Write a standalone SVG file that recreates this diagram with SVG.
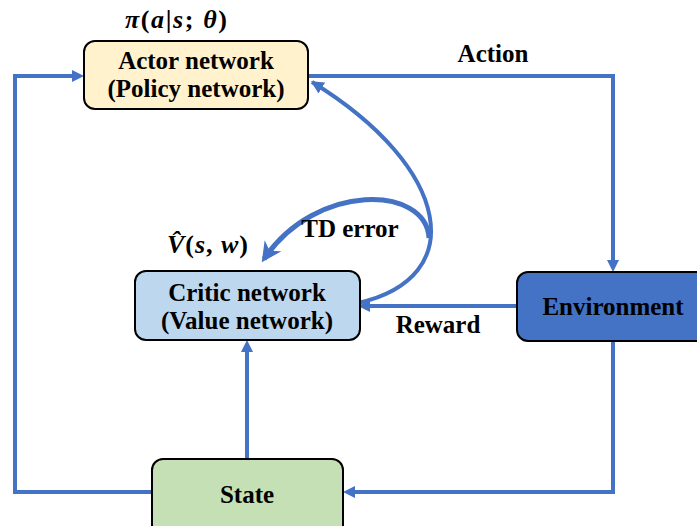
<svg xmlns="http://www.w3.org/2000/svg" width="697" height="526" viewBox="0 0 697 526">
<defs>
<style>
.box{stroke:#000;stroke-width:2}
.c{fill:none;stroke:#4472C4;stroke-width:4}
</style>
<marker id="ah" viewBox="0 0 10 10" refX="5" refY="5" markerWidth="3" markerHeight="3" orient="auto" markerUnits="strokeWidth">
<path d="M0,0 L10,5 L0,10 z" fill="#4472C4"/>
</marker>
<marker id="ahc" viewBox="0 0 10 10" refX="9" refY="5" markerWidth="3.2" markerHeight="3.2" orient="auto" markerUnits="strokeWidth">
<path d="M0,0 L10,5 L0,10 z" fill="#4472C4"/>
</marker>
<marker id="ahb" viewBox="0 0 10 10" refX="8" refY="5" markerWidth="4" markerHeight="4" orient="auto" markerUnits="strokeWidth">
<path d="M0,0 L10,5 L0,10 L3,5 z" fill="#4472C4"/>
</marker>
</defs>
<rect width="697" height="526" fill="#fff"/>
<g id="connectors">
<path class="c" d="M152 492 H15 V76 H78" marker-end="url(#ah)"/>
<path class="c" d="M308 76 H613 V266" marker-end="url(#ah)"/>
<path class="c" d="M613 341 V492 H349" marker-end="url(#ah)"/>
<path class="c" d="M517 306 H364" marker-end="url(#ah)"/>
<path class="c" d="M247 459 V346" marker-end="url(#ah)"/>
<path class="c" d="M358 303 C470 278 452 168 312 82" marker-end="url(#ahc)"/>
<path class="c" style="stroke-width:5" d="M429 238 C426 185 316 182 264 259" marker-end="url(#ahb)"/>
</g>
<g id="actor">
<rect class="box" x="84" y="41" width="224" height="68" rx="11" fill="#FFF2CC"/>
<text x="196" y="69" text-anchor="middle" font-family="Liberation Serif" font-weight="bold" font-size="25">Actor network</text>
<text x="196" y="97" text-anchor="middle" font-family="Liberation Serif" font-weight="bold" font-size="25">(Policy network)</text>
</g>
<g id="actor-label">
<text x="125" y="28" font-family="Liberation Serif" font-weight="bold" font-size="26" textLength="102" lengthAdjust="spacing"><tspan font-style="italic">&#960;</tspan>(<tspan font-style="italic">a</tspan>|<tspan font-style="italic">s</tspan>; <tspan font-style="italic">&#952;</tspan>)</text>
</g>
<g id="critic">
<rect class="box" x="135" y="271" width="225" height="69" rx="11" fill="#BDD7EE"/>
<text x="247" y="301" text-anchor="middle" font-family="Liberation Serif" font-weight="bold" font-size="25">Critic network</text>
<text x="247" y="329" text-anchor="middle" font-family="Liberation Serif" font-weight="bold" font-size="25">(Value network)</text>
</g>
<g id="critic-label">
<text x="167" y="253" font-family="Liberation Serif" font-weight="bold" font-size="26" textLength="81" lengthAdjust="spacing"><tspan font-style="italic">V&#770;</tspan>(<tspan font-style="italic">s</tspan>, <tspan font-style="italic">w</tspan>)</text>
</g>
<g id="environment">
<rect class="box" x="517" y="272" width="200" height="69" rx="11" fill="#4472C4"/>
<text x="613" y="315" text-anchor="middle" font-family="Liberation Serif" font-weight="bold" font-size="25">Environment</text>
</g>
<g id="state">
<rect class="box" x="152" y="459" width="191" height="80" rx="11" fill="#C5E0B4"/>
<text x="247" y="503" text-anchor="middle" font-family="Liberation Serif" font-weight="bold" font-size="25">State</text>
</g>
<g id="labels">
<text x="493" y="62" text-anchor="middle" font-family="Liberation Serif" font-weight="bold" font-size="25">Action</text>
<text x="350" y="237" text-anchor="middle" font-family="Liberation Serif" font-weight="bold" font-size="25">TD error</text>
<text x="438" y="333" text-anchor="middle" font-family="Liberation Serif" font-weight="bold" font-size="25">Reward</text>
</g>
</svg>
